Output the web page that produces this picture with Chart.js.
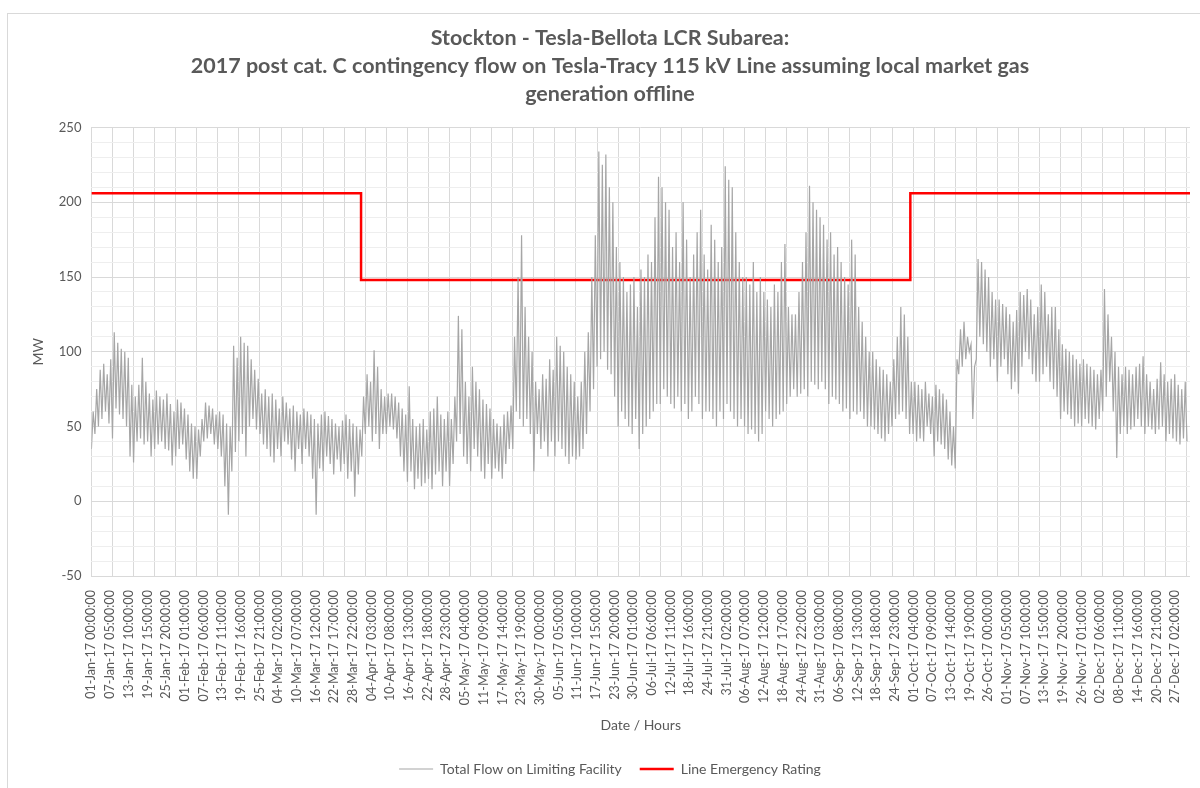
<!DOCTYPE html>
<html>
<head>
<meta charset="utf-8">
<script src="https://cdn.jsdelivr.net/npm/chart.js@4.4.0/dist/chart.umd.min.js"></script>
<style>
  html, body { margin: 0; padding: 0; background: #fff; }
  #wrap { position: relative; width: 1200px; height: 788px; overflow: hidden; }
  #frame { position: absolute; left: 7px; top: 13px; width: 1220px; height: 800px; border: 1px solid #d9d9d9; }
  canvas { position: absolute; left: 0; top: 0; }
</style>
</head>
<body>
<div id="wrap">
  <div id="frame"></div>
  <canvas id="chart" width="1200" height="788"></canvas>
</div>
<script>
const titleLines = [
  'Stockton - Tesla-Bellota LCR Subarea:',
  '2017 post cat. C contingency flow on Tesla-Tracy 115 kV Line assuming local market gas',
  'generation offline'
];

// one label every 149 hours, as on the original axis
const labelStepHours = 149;
const tickLabels = [
  '01-Jan-17 00:00:00', '07-Jan-17 05:00:00', '13-Jan-17 10:00:00', '19-Jan-17 15:00:00',
  '25-Jan-17 20:00:00', '01-Feb-17 01:00:00', '07-Feb-17 06:00:00', '13-Feb-17 11:00:00',
  '19-Feb-17 16:00:00', '25-Feb-17 21:00:00', '04-Mar-17 02:00:00', '10-Mar-17 07:00:00',
  '16-Mar-17 12:00:00', '22-Mar-17 17:00:00', '28-Mar-17 22:00:00', '04-Apr-17 03:00:00',
  '10-Apr-17 08:00:00', '16-Apr-17 13:00:00', '22-Apr-17 18:00:00', '28-Apr-17 23:00:00',
  '05-May-17 04:00:00', '11-May-17 09:00:00', '17-May-17 14:00:00', '23-May-17 19:00:00',
  '30-May-17 00:00:00', '05-Jun-17 05:00:00', '11-Jun-17 10:00:00', '17-Jun-17 15:00:00',
  '23-Jun-17 20:00:00', '30-Jun-17 01:00:00', '06-Jul-17 06:00:00', '12-Jul-17 11:00:00',
  '18-Jul-17 16:00:00', '24-Jul-17 21:00:00', '31-Jul-17 02:00:00', '06-Aug-17 07:00:00',
  '12-Aug-17 12:00:00', '18-Aug-17 17:00:00', '24-Aug-17 22:00:00', '31-Aug-17 03:00:00',
  '06-Sep-17 08:00:00', '12-Sep-17 13:00:00', '18-Sep-17 18:00:00', '24-Sep-17 23:00:00',
  '01-Oct-17 04:00:00', '07-Oct-17 09:00:00', '13-Oct-17 14:00:00', '19-Oct-17 19:00:00',
  '26-Oct-17 00:00:00', '01-Nov-17 05:00:00', '07-Nov-17 10:00:00', '13-Nov-17 15:00:00',
  '19-Nov-17 20:00:00', '26-Nov-17 01:00:00', '02-Dec-17 06:00:00', '08-Dec-17 11:00:00',
  '14-Dec-17 16:00:00', '20-Dec-17 21:00:00', '27-Dec-17 02:00:00'
];

// vertical gridlines are weekly
const gridStepHours = 168;
const yearHours = 8760;

// flow samples, one every 14 hours (12 per week, low/high pairs)
const sampleHours = 14;
const flowValues = [
  35, 60, 45, 75, 50, 88, 55, 92, 60, 85, 52, 95,          // wk 1
  42, 113, 62, 106, 58, 102, 55, 100, 50, 96, 30, 78,
  26, 70, 40, 78, 42, 96, 38, 80, 40, 72, 30, 68,
  35, 74, 38, 70, 40, 68, 35, 72, 34, 65, 24, 60,
  30, 68, 35, 66, 38, 62, 28, 58, 20, 52, 15, 50,          // wk 5
  15, 48, 30, 55, 40, 66, 42, 64, 45, 62, 38, 58,
  35, 60, 30, 58, 10, 52, -9, 50, 20, 104, 33, 96,
  40, 110, 45, 106, 30, 104, 50, 95, 55, 88, 48, 82,
  45, 72, 38, 75, 35, 70, 30, 72, 26, 68, 35, 62,
  30, 70, 40, 66, 38, 62, 28, 64, 20, 60, 35, 58,          // wk 10
  25, 62, 35, 60, 30, 58, 15, 55, -9, 52, 22, 58,
  20, 60, 30, 57, 25, 55, 18, 52, 28, 50, 20, 54,
  25, 58, 15, 55, 20, 52, 3, 50, 18, 48, 30, 70,
  45, 85, 50, 80, 40, 101, 45, 90, 35, 75, 45, 70,
  45, 72, 50, 72, 48, 70, 42, 66, 30, 62, 20, 58,          // wk 15
  13, 77, 20, 55, 8, 50, 15, 52, 10, 55, 12, 48,
  15, 60, 8, 62, 18, 70, 20, 58, 10, 55, 20, 60,
  10, 55, 25, 70, 40, 124, 45, 115, 30, 80, 25, 70,
  20, 90, 35, 80, 30, 75, 20, 68, 15, 65, 25, 62,
  15, 55, 22, 52, 20, 50, 15, 58, 25, 60, 35, 64,          // wk 20
  35, 110, 60, 150, 55, 178, 50, 130, 55, 110, 45, 100,
  20, 80, 45, 75, 35, 85, 40, 82, 30, 95, 40, 88,
  30, 110, 40, 104, 35, 100, 30, 90, 25, 85, 30, 80,
  28, 70, 30, 80, 35, 100, 45, 113, 60, 150, 75, 178,
  90, 234, 95, 225, 100, 232, 88, 210, 85, 200, 70, 170,   // wk 25
  50, 160, 60, 150, 55, 140, 50, 145, 45, 150, 55, 130,
  35, 155, 45, 150, 50, 165, 55, 160, 60, 190, 65, 217,
  65, 210, 75, 200, 70, 195, 65, 170, 62, 180, 70, 160,
  60, 200, 65, 175, 55, 150, 60, 165, 70, 180, 65, 195,
  55, 165, 60, 155, 60, 185, 55, 175, 50, 160, 60, 170,    // wk 30
  55, 224, 65, 215, 60, 210, 55, 180, 50, 160, 55, 150,
  50, 150, 45, 145, 48, 160, 45, 140, 40, 150, 45, 140,
  60, 135, 55, 130, 50, 145, 55, 140, 58, 160, 60, 172,
  65, 130, 70, 125, 75, 125, 70, 140, 72, 160, 75, 180,
  70, 211, 80, 200, 78, 195, 75, 190, 80, 185, 75, 175,    // wk 35
  65, 180, 70, 165, 68, 170, 65, 160, 60, 150, 62, 145,
  55, 175, 60, 165, 58, 130, 60, 120, 55, 110, 50, 100,
  50, 100, 48, 95, 45, 90, 42, 88, 40, 85, 45, 80,
  50, 95, 55, 110, 58, 130, 60, 125, 55, 110, 45, 80,
  45, 80, 40, 78, 42, 75, 40, 80, 50, 72, 45, 70,          // wk 40
  30, 78, 40, 75, 38, 72, 35, 68, 28, 60, 24, 50,
  22, 95, 85, 115, 90, 120, 95, 110, 100, 105, 55, 90,
  95, 162, 110, 160, 105, 155, 100, 150, 90, 140, 95, 135,
  80, 135, 90, 132, 95, 130, 85, 125, 75, 120, 80, 128,
  72, 140, 90, 138, 100, 142, 95, 135, 85, 125, 80, 130,   // wk 45
  80, 145, 85, 140, 90, 125, 80, 130, 75, 130, 70, 115,
  55, 105, 60, 102, 58, 100, 55, 98, 50, 95, 52, 92,
  50, 95, 55, 92, 52, 90, 50, 88, 48, 85, 55, 88,
  60, 142, 70, 125, 80, 110, 60, 100, 29, 90, 45, 85,
  50, 90, 45, 88, 48, 85, 50, 90, 55, 92, 50, 97,          // wk 50
  45, 85, 50, 80, 48, 75, 45, 82, 48, 93, 50, 85,
  40, 80, 45, 82, 42, 85, 40, 78, 38, 75, 42, 80,
  40
];

// emergency rating steps (hour of year, MW)
const ratingHours = [0, 2150, 6530, 8760];
const ratingValues = [206, 148, 206, 206];

const textColor = '#595959';
const fontFamily = 'Lato, "Liberation Sans", sans-serif';

const flowPoints = flowValues.map((v, i) => ({ x: i * sampleHours, y: v }));
const ratingPoints = ratingHours.map((h, i) => ({ x: h, y: ratingValues[i] }));

const ctx = document.getElementById('chart').getContext('2d');

const config = {
  type: 'line',
  data: {
    datasets: [
      {
        label: 'Total Flow on Limiting Facility',
        data: flowPoints,
        borderColor: '#a6a6a6',
        backgroundColor: '#a6a6a6',
        borderWidth: 1.2,
        pointRadius: 0,
        pointStyle: 'line',
        tension: 0
      },
      {
        label: 'Line Emergency Rating',
        data: ratingPoints,
        borderColor: '#ff0000',
        backgroundColor: '#ff0000',
        borderWidth: 2.5,
        pointRadius: 0,
        pointStyle: 'line',
        stepped: true
      }
    ]
  },
  options: {
    responsive: false,
    animation: false,
    layout: { padding: { left: 30, right: 10, top: 12, bottom: 2 } },
    plugins: {
      title: {
        display: true,
        text: titleLines,
        color: textColor,
        font: { family: fontFamily, size: 21.5, weight: 'bold', lineHeight: 1.31 },
        padding: { top: 12, bottom: 19 }
      },
      legend: {
        position: 'bottom',
        labels: {
          usePointStyle: true,
          pointStyleWidth: 34,
          color: textColor,
          font: { family: fontFamily, size: 14 },
          padding: 18
        }
      },
      tooltip: { enabled: false }
    },
    scales: {
      x: {
        type: 'linear',
        min: 0,
        max: yearHours,
        afterBuildTicks: (axis) => {
          axis.ticks = tickLabels.map((_, i) => ({ value: i * labelStepHours }));
        },
        ticks: {
          autoSkip: false,
          minRotation: 90,
          maxRotation: 90,
          color: textColor,
          padding: 6,
          font: { family: fontFamily, size: 12.5 },
          callback: (value, index) => tickLabels[index]
        },
        grid: { display: false },
        border: { display: false },
        title: {
          display: true,
          text: 'Date / Hours',
          color: textColor,
          font: { family: fontFamily, size: 14 },
          padding: { top: 6, bottom: 10 }
        }
      },
      xGrid: {
        type: 'linear',
        position: 'bottom',
        min: 0,
        max: yearHours,
        afterBuildTicks: (axis) => {
          const ticks = [];
          for (let h = 0; h <= yearHours; h += gridStepHours) ticks.push({ value: h });
          axis.ticks = ticks;
        },
        ticks: { display: false },
        grid: { color: '#d9d9d9', drawTicks: false },
        border: { display: false }
      },
      y: {
        min: -50,
        max: 250,
        ticks: {
          stepSize: 50,
          color: textColor,
          padding: 10,
          font: { family: fontFamily, size: 13 }
        },
        grid: { color: '#d9d9d9', drawTicks: false },
        border: { display: false },
        title: {
          display: true,
          text: 'MW',
          color: textColor,
          font: { family: fontFamily, size: 14 },
          padding: { top: 0, bottom: 2 }
        }
      },
      yMinor: {
        position: 'left',
        min: -50,
        max: 250,
        ticks: { display: false, stepSize: 10 },
        grid: {
          drawTicks: false,
          color: (c) => (c.tick && c.tick.value % 50 === 0) ? 'rgba(0,0,0,0)' : '#eeeeee'
        },
        border: { display: false }
      }
    }
  }
};

const chart = new Chart(ctx, config);
</script>
</body>
</html>
